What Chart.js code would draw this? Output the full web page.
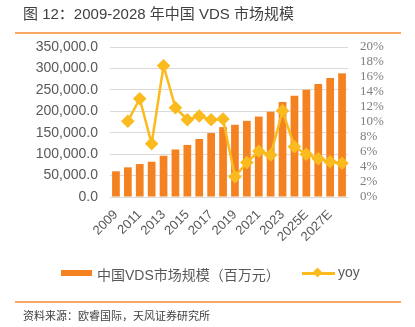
<!DOCTYPE html>
<html><head><meta charset="utf-8">
<script src="https://cdn.jsdelivr.net/npm/chart.js@4/dist/chart.umd.min.js"></script>
<style>
html,body{margin:0;padding:0;background:#fff;}
#wrap{position:relative;width:415px;height:327px;overflow:hidden;font-family:"Liberation Sans","Noto Sans CJK SC",sans-serif;}
#c{position:absolute;left:0;top:0;}
.title{position:absolute;left:23px;top:2px;font-size:15px;color:#404040;font-family:"Liberation Sans","Noto Sans CJK SC",sans-serif;white-space:nowrap;}
.hr{position:absolute;left:15px;width:386px;height:2px;background:#F7A865;}
.src{position:absolute;left:23px;top:307px;font-size:11px;color:#404040;font-family:"Noto Sans CJK SC",sans-serif;white-space:nowrap;}
.leg{position:absolute;top:264px;font-size:14px;color:#595959;white-space:nowrap;font-family:"Liberation Sans","Noto Sans CJK SC",sans-serif;}
</style></head><body>
<div id="wrap">
<canvas id="c" width="415" height="327"></canvas>
<div class="title">图 12：2009-2028 年中国 VDS 市场规模</div>
<div class="hr" style="top:32px"></div>
<div class="hr" style="top:301px"></div>
<div class="src">资料来源：欧睿国际，天风证券研究所</div>
<div style="position:absolute;left:61px;top:270px;width:31px;height:6px;background:#F58220"></div>
<div class="leg" style="left:97px">中国VDS市场规模（百万元）</div>
<div style="position:absolute;left:302px;top:272px;width:33px;height:2.5px;background:#FBBA1E"></div>
<div style="position:absolute;left:314px;top:269px;width:7px;height:7px;background:#FBBA1E;transform:rotate(45deg)"></div>
<div class="leg" style="left:338px">yoy</div>
</div>
<script>
const categories = ["2009","2010","2011","2012","2013","2014","2015","2016","2017","2018","2019","2020","2021","2022","2023","2024","2025E","2026E","2027E","2028E"];
const marketSize = [60000,69200,76900,82300,96200,110800,121500,135400,149200,163100,168500,177700,187700,199200,221500,236200,250000,263800,277700,288500];
const yoy = [null,0.101,0.131,0.071,0.175,0.119,0.103,0.108,0.103,0.104,0.027,0.046,0.061,0.056,0.115,0.067,0.057,0.051,0.047,0.045];

new Chart(document.getElementById('c'), {
  data: {
    labels: categories,
    datasets: [
      {type:'line', label:'yoy', data:yoy, yAxisID:'y2', borderColor:'#FBBA1E', backgroundColor:'#FBBA1E',
       borderWidth:2.5, pointStyle:'rectRot', pointRadius:5, pointBackgroundColor:'#FBBA1E', pointBorderColor:'#FBBA1E', tension:0, order:0},
      {type:'bar', label:'中国VDS市场规模（百万元）', data:marketSize, yAxisID:'y', backgroundColor:'#F58220',
       barPercentage:0.65, categoryPercentage:1.0, order:1}
    ]
  },
  options: {
    responsive:false, animation:false,
    layout:{padding:{top:47,left:0,right:0,bottom:0}},
    plugins:{legend:{display:false}, tooltip:{enabled:false}},
    scales:{
      x:{grid:{display:false}, border:{display:false},
         afterFit:(s)=>{s.height=130;},
         ticks:{autoSkip:false, maxRotation:45, minRotation:45, padding:2, color:'#595959',
                font:{family:'Liberation Sans', size:13},
                callback:function(v,i){return i%2===0?categories[i]:'';}}},
      y:{position:'left', min:0, max:350000, grid:{color:'#D9D9D9', drawTicks:false}, border:{display:false},
         afterFit:(s)=>{s.width=110;},
         ticks:{stepSize:50000, autoSkip:false, padding:12, color:'#595959', font:{family:'Liberation Sans', size:14},
                callback:(v)=>v.toLocaleString('en-US',{minimumFractionDigits:1,maximumFractionDigits:1})}},
      y2:{position:'right', min:0, max:0.2, grid:{display:false, drawTicks:false}, border:{display:false},
          afterFit:(s)=>{s.width=67;},
          ticks:{stepSize:0.02, autoSkip:false, padding:12, color:'#7F7F7F', font:{family:'Liberation Sans Narrow', size:13},
                 callback:(v)=>Math.round(v*100)+'%'}}
    }
  }
});
</script>
</body></html>
